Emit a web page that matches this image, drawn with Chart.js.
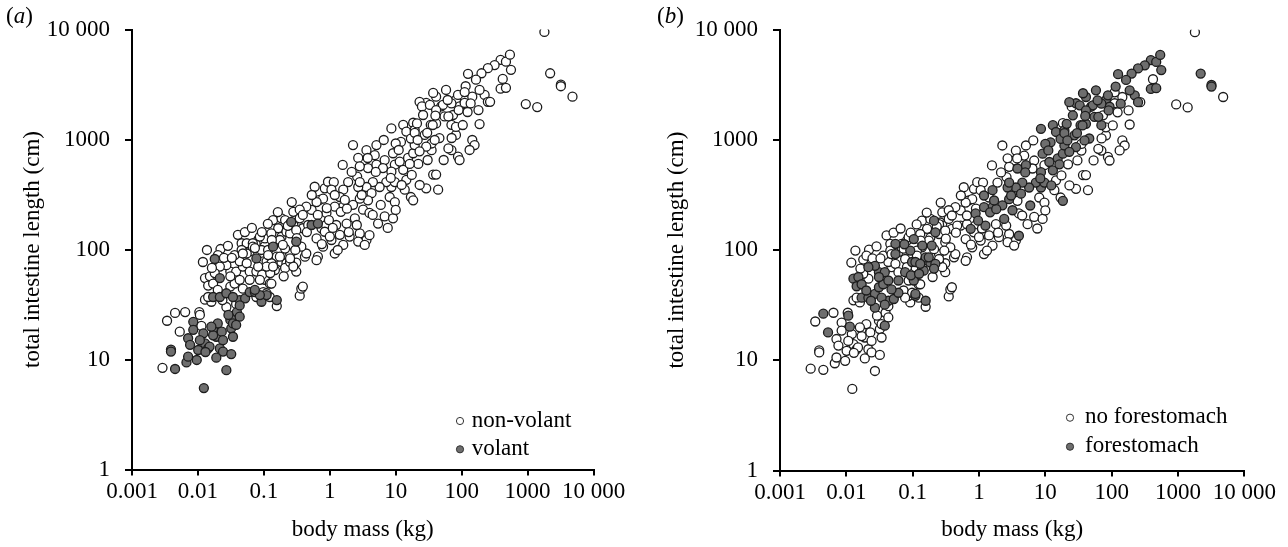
<!DOCTYPE html>
<html><head><meta charset="utf-8">
<script src="https://cdn.jsdelivr.net/npm/chart.js@4.4.1/dist/chart.umd.min.js"></script>
<style>
html,body{margin:0;padding:0;background:#fff;}
#wrap{position:relative;width:1288px;height:547px;overflow:hidden;background:#fff;}
.panel{position:absolute;top:0;height:547px;}
.tag{position:absolute;top:4px;font-family:'Liberation Serif',serif;font-size:23px;line-height:23px;color:#000;}
</style></head><body>
<div id="wrap">
 <div class="panel" style="left:0;width:644px"><canvas id="cA" width="644" height="547"></canvas></div>
 <div class="panel" style="left:644px;width:644px"><canvas id="cB" width="644" height="547"></canvas></div>
 <div class="tag" style="left:6px">(<i>a</i>)</div>
 <div class="tag" style="left:657px">(<i>b</i>)</div>
</div>
<script>
const xTickValues = [0.001, 0.01, 0.1, 1, 10, 100, 1000, 10000];
const xTickLabels = ['0.001', '0.01', '0.1', '1', '10', '100', '1000', '10 000'];
const yTickValues = [1, 10, 100, 1000, 10000];
const yTickLabels = ['1', '10', '100', '1000', '10 000'];

// body mass (kg)
const bodyMass = [
  // small species (mostly bats)
  0.0029,0.0034,0.0039,0.0039,0.0045,0.0045,0.0053,0.0064,0.0067,0.0071,
  0.0071,0.0085,0.0085,0.0096,0.0101,0.0105,0.0107,0.0113,0.0123,0.0121,
  0.0128,0.0143,0.017,0.020,0.019,0.023,0.0215,0.024,0.019,0.027,
  0.031,0.036,0.032,0.034,0.032,0.039,0.043,0.052,0.061,0.073,
  0.092,0.11,0.157,0.017,0.0215,0.027,0.034,0.017,0.024,0.015,
  0.013,0.0107,0.016,0.034,0.043,0.029,0.0076,0.087,0.018,0.0215,
  0.077,0.073,0.138,0.26,0.31,0.53,0.66,0.043,0.038,
  // 0.01 - 1 kg
  0.022,0.0128,0.0152,0.0143,0.017,0.020,0.0128,0.016,0.031,0.036,
  0.043,0.031,0.027,0.038,0.048,0.043,0.055,0.061,0.077,0.061,
  0.098,0.092,0.116,0.061,0.082,0.046,0.055,0.104,0.138,0.185,
  0.165,0.185,0.22,0.28,0.28,0.104,0.123,0.147,0.185,0.157,
  0.22,0.25,0.31,0.31,0.35,0.157,0.038,0.0215,0.018,0.031,
  0.048,0.098,0.123,0.077,0.027,0.0143,0.0235,0.21,0.11,0.13,
  0.14,0.075,0.055,0.094,0.125,0.175,0.21,0.11,
  0.036,0.068,0.35,0.39,0.53,0.59,0.70,0.84,0.94,0.25,
  0.63,0.66,0.42,0.25,0.11,0.087,0.13,0.046,0.37,0.63,
  // 0.1 - 20 kg
  2.25,3.6,5.1,4.8,3.4,2.7,3.8,2.85,5.1,6.8,
  9.1,9.7,11.5,8.6,13,6.4,15.4,18.4,19.4,14.5,
  13.7,17,18.4,8.6,8.1,9.7,7.2,5.7,4.5,3.6,
  4.3,3.8,2.85,2.6,2.7,1.9,1.6,1.42,1.15,1.06,
  0.79,0.63,0.44,0.35,0.25,0.31,0.47,0.75,0.88,1.25,
  1.8,2.4,2.25,1.6,1.19,3.2,4.0,5.4,6.8,9.1,
  2.85,3.6,2.7,2.0,1.42,1.6,1.19,1.06,0.79,0.44,
  0.37,0.30,0.21,0.175,0.116,0.068,0.048,0.082,0.138,0.28,
  0.20,0.13,0.087,0.39,0.25,0.84,1.0,8.6,13,18.4,
  14.5,19.4,17,12,10,
  9.7,0.89,0.97,4.0,1.47,1.82,2.85,22,16.3,
  // large species
  390,316,250,200,125,165,115,223,250,187,
  145,180,187,145,157,88,93,70,63,46,
  35,37,41,44,29,58,82,74,93,111,
  49,41,37,29,23,25,26,21,19.4,27.5,
  35,41,55,70,82,52,70,88,82,63,
  420,390,470,470,560,540,1800,2200,3200,3200,
  4800,940,1400,111,137,33,41,90,40,34,
  30,39,29,23,270,
  // further points in the dense band
  0.0119,0.0137,0.0163,0.0201,0.0248,0.0285,0.0327,0.0404,0.0515,0.0658,
  0.0731,0.0933,0.115,0.132,0.163,0.194,0.231,0.265,0.316,0.39,
  0.449,0.533,0.658,0.757,0.90,1.11,1.32,1.69,1.94,2.15,
  2.57,3.05,3.39,3.76,4.48,4.98,5.93,6.58,7.57,8.4,
  10,11.1,12.3,1.57,1.19,17.5,23.1,30.5,36.4,53.4,
  61.4,70.5,104,123,132,21.5
];

// total intestine length (cm)
const intestineLength = [
  8.4,22.5,12.3,11.8,8.2,26.5,17.9,27,9.4,10.6,
  15.6,22,18.6,9.9,12.2,27,25.4,20.2,5.5,17.3,
  14,12.6,19.2,21.3,16.1,17.9,12.6,11.8,10.4,8.0,
  22.9,23.7,19.2,16.1,11.2,27,34.7,36,41,41,
  33.5,38.5,34.7,37,37,40,37,16.6,15,13.1,
  11.7,15,19.9,21.3,24.5,25.4,13.6,38.5,82,55,
  83,43,106,178,118,167,172,31,20.6,

  101,55,57,47,49,43,35,33.5,46,49,
  53,63,72,63,70,78,75,63,63,53,
  78,99,99,96,122,114,114,126,185,192,
  156,130,145,220,167,53,49,65,77,86,
  75,92,63,76,38,30.6,32,70,61,57,
  44,41,37,37,30,37,34.7,68,78,75,
  110,113,92,59,61,86,185,40,
  89,114,192,156,229,372,282,360,413,140,
  126,86,86,77,70,131,140,99,44,80,

  890,800,890,720,650,680,550,570,590,650,
  750,590,630,510,530,550,680,750,890,430,
  350,300,280,370,300,270,410,370,410,370,
  325,280,290,460,370,410,350,300,410,350,
  290,270,245,230,172,150,167,156,167,167,
  172,192,255,245,245,230,215,172,200,192,
  140,122,118,131,136,110,92,122,106,92,
  106,99,102,122,89,106,92,70,70,70,
  57,49,53,46,83,145,131,1260,1360,1420,
  1180,1220,1020,950,920,
  410,215,185,135,220,235,410,600,600,

  5300,4750,4450,4000,3950,3500,3050,2540,2200,2820,
  2450,1850,1380,990,890,700,650,800,830,1030,
  800,480,480,350,360,2820,2290,1670,2000,2150,
  2000,2450,2650,2150,2200,2000,1670,1400,1150,1100,
  920,1400,1620,1360,1100,2060,2130,2540,1300,1620,
  3550,2900,2950,5100,4300,5900,9500,4000,3150,3050,
  2450,2100,1970,2700,2130,2060,1850,1850,1650,1360,
  1150,990,860,780,2200,

  77,99,68,89,84,108,84,136,144,157,
  103,144,171,122,219,110,164,270,127,206,
  144,313,206,112,238,157,99,282,144,507,
  167,313,110,679,206,507,254,990,157,447,
  229,803,386,587,313,476,386,651,1354,651,
  2286,1032,1354,1778,803,990
];

// 1 = volant (panel a, filled)
const volant = [
  0,0,1,1,1,0,0,0,1,1, 1,1,1,1,1,0,0,0,1,1, 1,1,1,1,1,1,1,1,1,1,
  1,1,1,1,1,1,1,1,1,1, 1,1,1,1,1,1,1,1,1,1, 1,1,1,1,1,1,1,1,1,1,
  1,1,1,1,1,1,1,1,1,

  0,0,0,0,0,0,0,0,0,0, 0,0,0,0,0,0,0,0,0,0, 0,0,0,0,0,0,0,0,0,0,
  0,0,0,0,0,0,0,0,0,0, 0,0,0,0,0,0,0,0,0,0, 0,0,0,0,0,0,0,0,0,0,
  0,0,0,0,0,0,0,0,
  0,0,0,0,0,0,0,0,0,0, 0,0,0,0,0,0,0,0,0,0,

  0,0,0,0,0,0,0,0,0,0, 0,0,0,0,0,0,0,0,0,0, 0,0,0,0,0,0,0,0,0,0,
  0,0,0,0,0,0,0,0,0,0, 0,0,0,0,0,0,0,0,0,0, 0,0,0,0,0,0,0,0,0,0,
  0,0,0,0,0,0,0,0,0,0, 0,0,0,0,0,0,0,0,0,0, 0,0,0,0,0,0,0,0,0,0,
  0,0,0,0,0,
  0,0,0,0,0,0,0,0,0,

  0,0,0,0,0,0,0,0,0,0, 0,0,0,0,0,0,0,0,0,0, 0,0,0,0,0,0,0,0,0,0,
  0,0,0,0,0,0,0,0,0,0, 0,0,0,0,0,0,0,0,0,0, 0,0,0,0,0,0,0,0,0,0,
  0,0,0,0,0,0,0,0,0,0, 0,0,0,0,0,

  0,0,0,0,0,0,0,0,0,0, 0,0,0,0,0,0,0,0,0,0, 0,0,0,0,0,0,0,0,0,0,
  0,0,0,0,0,0,0,0,0,0, 0,0,0,0,0,0,0,0,0,0, 0,0,0,0,0,0
];

// 1 = forestomach (panel b, filled)
const forestomach = [
  0,0,0,0,0,1,1,0,0,0, 0,0,0,0,0,0,1,1,0,0, 0,0,0,0,0,0,0,0,0,0,
  0,0,0,0,0,0,1,1,1,0, 0,1,1,1,1,1,1,0,0,0, 0,0,0,0,0,0,0,0,0,0,
  0,0,0,0,0,0,0,0,1,

  0,1,1,1,1,1,0,0,1,1, 1,1,1,1,0,0,0,0,1,1, 1,1,0,0,0,0,1,1,0,0,
  0,0,1,0,0,1,0,1,1,1, 1,0,0,0,0,0,1,1,0,1, 1,0,0,0,1,0,1,1,1,1,
  1,1,1,1,1,1,1,1,
  0,0,0,0,0,0,0,0,0,0, 0,0,0,0,0,0,0,0,0,0,

  0,0,0,0,0,0,1,0,1,0, 1,0,1,1,1,0,1,1,1,0, 0,0,1,1,0,0,1,1,1,1,
  1,0,1,0,1,0,1,0,0,0, 0,0,0,0,0,0,0,1,0,1, 0,1,1,1,1,1,0,0,0,0,
  0,0,0,0,0,0,0,0,0,0, 0,0,0,0,0,0,0,0,0,0, 0,0,0,0,0,0,0,1,1,0,
  1,1,1,1,1,
  1,1,1,1,1,1,1,0,1,

  1,1,1,1,1,1,1,1,1,1, 0,0,0,0,0,0,0,0,0,1, 0,0,0,0,0,1,1,0,1,0,
  1,1,1,1,1,0,1,1,1,1, 0,1,1,1,0,1,1,1,0,1, 0,1,1,1,1,1,0,1,1,1,
  0,0,0,0,1,1,1,1,1,1, 1,1,1,1,0,

  0,0,0,0,0,0,0,0,0,0, 0,0,0,0,0,1,0,0,0,0, 0,0,0,0,0,0,0,1,0,0,
  0,1,0,0,0,1,1,0,0,1, 0,1,1,0,1,0,0,0,1,0, 1,0,0,0,0,1
];

const seriesA = ['non-volant', 'volant'];
const seriesB = ['no forestomach', 'forestomach'];

const FONT = "'Liberation Serif', 'Times New Roman', serif";
const OPEN_FILL = '#ffffff';
const GRAY_FILL = '#6e6e6e';
const EDGE = '#1c1c1c';

function pick(flags, want) {
  const out = [];
  for (let i = 0; i < bodyMass.length; i++) {
    if (flags[i] === want) out.push({x: bodyMass[i], y: intestineLength[i]});
  }
  return out;
}

function makeDatasets(flags, names) {
  return [
    {label: names[0], data: pick(flags, 0), backgroundColor: OPEN_FILL, borderColor: EDGE,
     pointRadius: 4.5, pointBorderWidth: 1.3, order: 1},
    {label: names[1], data: pick(flags, 1), backgroundColor: GRAY_FILL, borderColor: EDGE,
     pointRadius: 4.5, pointBorderWidth: 1.3, order: 0}
  ];
}

const insetLegend = {
  id: 'insetLegend',
  afterDraw(chart, args, o) {
    const {ctx, chartArea} = chart;
    ctx.save();
    ctx.font = '23px ' + FONT;
    ctx.textBaseline = 'alphabetic';
    ctx.textAlign = 'left';
    chart.data.datasets.forEach((ds, i) => {
      const cx = chartArea.left + o.x;
      const cy = chartArea.top + o.y + i * o.gap;
      ctx.beginPath();
      ctx.arc(cx, cy, 3.6, 0, Math.PI * 2);
      ctx.fillStyle = ds.backgroundColor;
      ctx.fill();
      ctx.lineWidth = 1;
      ctx.strokeStyle = '#333';
      ctx.stroke();
      ctx.fillStyle = '#000';
      ctx.fillText(ds.label, cx + o.dx, cy + o.dy);
    });
    ctx.restore();
  }
};

function makeOptions(p) {
  return {
    responsive: false,
    animation: false,
    devicePixelRatio: 1,
    layout: {padding: {left: 0, right: p.right, top: p.top, bottom: 0}},
    plugins: {
      legend: {display: false},
      tooltip: {enabled: false},
      insetLegend: p.legend
    },
    scales: {
      x: {
        type: 'logarithmic', position: 'bottom', min: 0.001, max: 10000,
        afterBuildTicks: s => { s.ticks = xTickValues.map(v => ({value: v})); },
        afterFit: s => { s.height = 547 - p.bottom; },
        ticks: {autoSkip: false, maxRotation: 0, minRotation: 0, color: '#000', padding: 3,
                font: {family: FONT, size: 23},
                callback: (v, i) => xTickLabels[i]},
        grid: {display: true, drawOnChartArea: false, drawTicks: true, tickLength: 6,
               color: '#000', lineWidth: 2},
        border: {display: true, color: '#000', width: 2},
        title: {display: true, text: 'body mass (kg)', color: '#000',
                font: {family: FONT, size: 23}, padding: {top: 0, bottom: 3}}
      },
      y: {
        type: 'logarithmic', position: 'left', min: 1, max: 10000,
        afterBuildTicks: s => { s.ticks = yTickValues.map(v => ({value: v})); },
        afterFit: s => { s.width = p.left; },
        ticks: {autoSkip: false, color: '#000', padding: 15,
                font: {family: FONT, size: 23},
                callback: (v, i) => yTickLabels[i]},
        grid: {display: true, drawOnChartArea: false, drawTicks: true, tickLength: 7,
               color: '#000', lineWidth: 2},
        border: {display: true, color: '#000', width: 2},
        title: {display: true, text: 'total intestine length (cm)', color: '#000',
                font: {family: FONT, size: 23}, padding: {top: 19, bottom: 0}}
      }
    }
  };
}

new Chart(document.getElementById('cA'), {
  type: 'scatter',
  data: {datasets: makeDatasets(volant, seriesA)},
  options: makeOptions({left: 132, right: 50.5, top: 29.5, bottom: 469.5,
    legend: {x: 328, y: 391.5, gap: 28.3, dx: 11.7, dy: 6}}),
  plugins: [insetLegend]
});

new Chart(document.getElementById('cB'), {
  type: 'scatter',
  data: {datasets: makeDatasets(forestomach, seriesB)},
  options: makeOptions({left: 136, right: 43.7, top: 29.7, bottom: 470.5,
    legend: {x: 290, y: 388, gap: 29, dx: 15, dy: 5}}),
  plugins: [insetLegend]
});
</script>
</body></html>
